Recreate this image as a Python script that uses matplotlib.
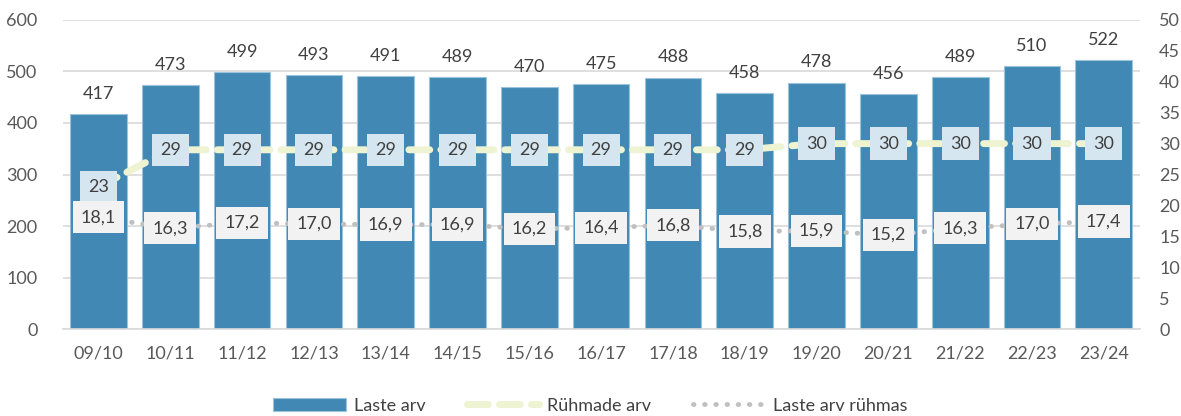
import matplotlib.pyplot as plt
import numpy as np

# andmed
years = ["09/10", "10/11", "11/12", "12/13", "13/14", "14/15", "15/16", "16/17",
         "17/18", "18/19", "19/20", "20/21", "21/22", "22/23", "23/24"]
laste_arv = [417, 473, 499, 493, 491, 489, 470, 475, 488, 458, 478, 456, 489, 510, 522]
ruhmade_arv = [23, 29, 29, 29, 29, 29, 29, 29, 29, 29, 30, 30, 30, 30, 30]
laste_arv_ruhmas = [18.1, 16.3, 17.2, 17.0, 16.9, 16.9, 16.2, 16.4, 16.8, 15.8, 15.9, 15.2, 16.3, 17.0, 17.4]

plt.rcParams['font.family'] = ['Lato', 'DejaVu Sans']

fig = plt.figure(figsize=(11.81, 4.16), dpi=100)
ax = fig.add_axes([0.053, 0.209, 0.912, 0.743])
ax2 = ax.twinx()

x = np.arange(len(years))
bars = ax.bar(x, laste_arv, width=0.79, color="#4189B4", edgecolor="#9CC3DC",
              linewidth=0.8, label="Laste arv", zorder=2)
for xi, v in zip(x, laste_arv):
    ax.text(xi, v + 24, str(v), ha="center", va="bottom", fontsize=13, color="#404040")

ax.set_ylim(0, 600)
ax.set_yticks(range(0, 601, 100))
ax.set_xlim(-0.5, len(years) - 0.5)
ax.set_xticks(x)
ax.set_xticklabels(years)
ax.grid(axis="y", color="#D9D9D9", linewidth=1.2, zorder=0)
ax.set_axisbelow(True)

ax2.set_ylim(0, 50)
ax2.set_yticks(range(0, 51, 5))

l1, = ax2.plot(x, ruhmade_arv, color="#EEF3D2", linewidth=5, dashes=(3, 1.6),
               solid_capstyle="round", dash_capstyle="round", label="Rühmade arv", zorder=3)
l2, = ax2.plot(x, laste_arv_ruhmas, color="#C0C0C0", linewidth=3.5, linestyle=(0, (0.1, 2.2)),
               dash_capstyle="round", label="Laste arv rühmas", zorder=3)

for xi, v in zip(x, ruhmade_arv):
    ax2.text(xi, v, str(v), ha="center", va="center", fontsize=13, color="#404040", zorder=5,
             bbox=dict(boxstyle="square,pad=0.45", facecolor="#D6E6F0", edgecolor="none"))
for xi, v in zip(x, laste_arv_ruhmas):
    ax2.text(xi, v, f"{v:.1f}".replace(".", ","), ha="center", va="center", fontsize=13,
             color="#404040", zorder=5,
             bbox=dict(boxstyle="square,pad=0.45", facecolor="#F2F2F2", edgecolor="none"))

for a in (ax, ax2):
    for s in a.spines.values():
        s.set_visible(False)
    a.tick_params(length=0, labelsize=13, labelcolor="#595959")
ax.spines["bottom"].set_visible(True)
ax.spines["bottom"].set_color("#D9D9D9")
ax.spines["bottom"].set_linewidth(1.2)
ax.tick_params(axis="x", pad=12)
ax.tick_params(axis="y", pad=18)
ax2.tick_params(axis="y", pad=14)

fig.legend(handles=[bars, l1, l2], loc="center", bbox_to_anchor=(0.5, 0.025), ncol=3,
           frameon=False, fontsize=13, labelcolor="#404040", handlelength=4,
           columnspacing=2.3, handletextpad=0.45)

fig.savefig("out.png", dpi=100)
